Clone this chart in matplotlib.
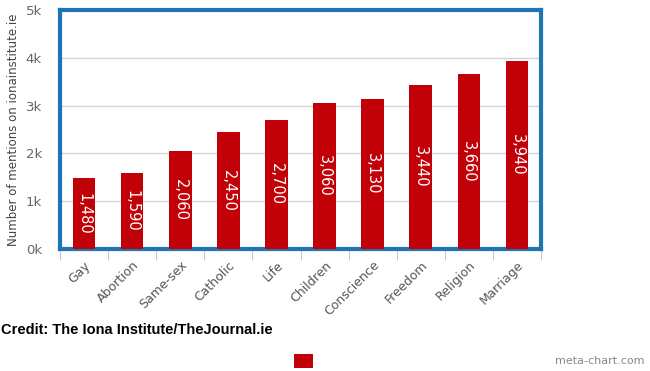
import matplotlib
matplotlib.use("Agg")
import matplotlib.pyplot as plt
from matplotlib.patches import Rectangle
import numpy as np

categories = ["Gay", "Abortion", "Same-sex", "Catholic", "Life", "Children",
              "Conscience", "Freedom", "Religion", "Marriage"]
values = [1480, 1590, 2060, 2450, 2700, 3060, 3130, 3440, 3660, 3940]
ytick_vals = [0, 1000, 2000, 3000, 4000, 5000]
ytick_labels = ["0k", "1k", "2k", "3k", "4k", "5k"]
ylabel = "Number of mentions on ionainstitute.ie"
credit = "Credit: The Iona Institute/TheJournal.ie"
watermark = "meta-chart.com"

W, H = 650, 371
fig = plt.figure(figsize=(W / 100, H / 100), dpi=100)
ax = fig.add_axes([60 / W, 1 - 249 / H, (541 - 60) / W, (249 - 10) / H])

bar_color = "#c20008"
x = np.arange(len(categories))
bars = ax.bar(x, values, width=0.47, color=bar_color, zorder=3)
for xi, v in zip(x, values):
    ax.text(xi, v / 2, f"{v:,}", rotation=-90, ha="center", va="center",
            color="white", fontsize=10.5, zorder=4)

ax.set_xlim(-0.5, len(categories) - 0.5)
ax.set_ylim(0, 5000)
ax.set_yticks(ytick_vals)
ax.set_yticklabels(ytick_labels)
ax.yaxis.grid(True, color="#d4d4d4", linewidth=1, zorder=0)
ax.tick_params(axis="y", length=0, pad=13, labelsize=9.5, labelcolor="#666666")

ax.set_xticks(x)
ax.set_xticklabels(categories, rotation=45, ha="right", rotation_mode="anchor",
                   fontsize=9, color="#555555")
ax.tick_params(axis="x", which="major", length=0, pad=7)
ax.set_xticks(np.arange(-0.5, len(categories)), minor=True)
ax.tick_params(axis="x", which="minor", length=8, width=0.8, color="#c8c8c8")

for s in ax.spines.values():
    s.set_color("#1f74b4")
    s.set_linewidth(3)

ax.set_ylabel(ylabel, fontsize=8.5, color="#444444", labelpad=4)

fig.text(1 / W, 1 - 330 / H, credit, fontsize=10.5, fontweight="bold",
         family="Liberation Sans", color="black", ha="left", va="center")
fig.patches.append(Rectangle((294 / W, 1 - 368 / H), 19 / W, 14 / H,
                             transform=fig.transFigure, facecolor=bar_color,
                             edgecolor="none"))
fig.text(645 / W, 1 - 361 / H, watermark, fontsize=8, color="#888888",
         ha="right", va="center")

fig.savefig("out.png", dpi=100)
